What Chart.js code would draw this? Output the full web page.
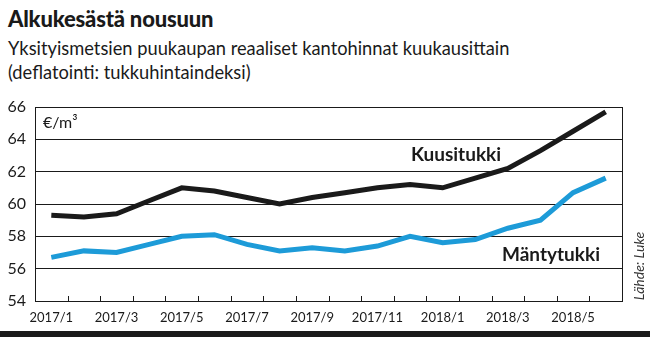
<!DOCTYPE html>
<html lang="fi">
<head>
<meta charset="utf-8">
<title>Alkukesästä nousuun</title>
<script src="https://cdn.jsdelivr.net/npm/chart.js@4"></script>
<style>
  html, body { margin: 0; padding: 0; background: #fff; }
  body { width: 650px; height: 337px; position: relative; overflow: hidden; font-family: Lato, "Open Sans", sans-serif; color: #1a1a1a; }
  #otsikko { position: absolute; left: 8px; top: 5px; font-size: 22px; font-weight: 900; letter-spacing: -0.2px; }
  #alaotsikko { position: absolute; left: 8px; top: 36px; font-size: 18.3px; line-height: 24px; }
  #lahde { position: absolute; left: 638px; top: 266px; transform: translate(-50%, -50%) rotate(-90deg); font-size: 14px; font-style: italic; color: #333; white-space: nowrap; }
  .sarja { position: absolute; font-size: 19px; font-weight: bold; transform: translate(-50%, -50%); white-space: nowrap; }
  #yksikko { position: absolute; left: 43px; top: 112px; font-size: 16px; }
  #palkki { position: absolute; left: 0; top: 331px; width: 650px; height: 6px; background: #1a1a1a; }
  canvas { position: absolute; left: 0; top: 0; }
</style>
</head>
<body>
<div id="otsikko">Alkukesästä nousuun</div>
<div id="alaotsikko">Yksityismetsien puukaupan reaaliset kantohinnat kuukausittain<br>(deflatointi: tukkuhintaindeksi)</div>
<canvas id="kaavio" width="650" height="337"></canvas>
<div id="yksikko">€/m³</div>
<div class="sarja" style="left:456px; top:153px;">Kuusitukki</div>
<div class="sarja" style="left:551px; top:253px;">Mäntytukki</div>
<div id="lahde">Lähde: Luke</div>
<div id="palkki"></div>

<script>
// ====== DATOS ======
const kuukaudet = ["2017/1", "2017/2", "2017/3", "2017/4", "2017/5", "2017/6", "2017/7", "2017/8", "2017/9",
                   "2017/10", "2017/11", "2017/12", "2018/1", "2018/2", "2018/3", "2018/4", "2018/5", "2018/6"];
const kuusitukki = [59.3, 59.2, 59.4, 60.2, 61.0, 60.8, 60.4, 60.0, 60.4, 60.7, 61.0, 61.2, 61.0, 61.6, 62.2, 63.3, 64.5, 65.7];
const mantytukki = [56.7, 57.1, 57.0, 57.5, 58.0, 58.1, 57.5, 57.1, 57.3, 57.1, 57.4, 58.0, 57.6, 57.8, 58.5, 59.0, 60.7, 61.6];
const yTicks = [54, 56, 58, 60, 62, 64, 66];

// ticks hacia adentro + borde derecho
const reunaPlugin = {
    id: 'reuna',
    afterDraw(chart) {
        const { ctx, chartArea, scales } = chart;
        const x = scales.x;
        ctx.save();
        ctx.strokeStyle = '#1a1a1a';
        ctx.lineWidth = 1;
        ctx.beginPath();
        for (let i = 1; i < kuukaudet.length; i++) {
            const px = Math.round((x.getPixelForValue(i - 1) + x.getPixelForValue(i)) / 2) + 0.5;
            ctx.moveTo(px, chartArea.bottom);
            ctx.lineTo(px, chartArea.bottom - 5);
        }
        ctx.moveTo(Math.round(chartArea.right) + 0.5, chartArea.top);
        ctx.lineTo(Math.round(chartArea.right) + 0.5, chartArea.bottom);
        ctx.stroke();
        ctx.restore();
    }
};

new Chart(document.getElementById('kaavio').getContext('2d'), {
    type: 'line',
    data: {
        labels: kuukaudet,
        datasets: [
            { label: 'Kuusitukki', data: kuusitukki, borderColor: '#1a1a1a', borderWidth: 5, pointRadius: 0, tension: 0 },
            { label: 'Mäntytukki', data: mantytukki, borderColor: '#1d9bd8', borderWidth: 5, pointRadius: 0, tension: 0 }
        ]
    },
    options: {
        responsive: false,
        animation: false,
        layout: { padding: { left: 0, right: 28, top: 107, bottom: 6 } },
        plugins: { legend: { display: false }, tooltip: { enabled: false } },
        scales: {
            x: {
                offset: true,
                grid: { display: false },
                border: { display: true, color: '#1a1a1a', width: 1 },
                afterFit(scale) { scale.height = 30; },
                ticks: {
                    autoSkip: false, maxRotation: 0, padding: 1,
                    color: '#1a1a1a', font: { family: 'Lato', size: 13 },
                    callback: (v, i) => (i % 2 === 0 ? kuukaudet[i] : '')
                }
            },
            y: {
                min: 54, max: 66,
                afterFit(scale) { scale.width = 35; },
                afterBuildTicks(scale) { scale.ticks = yTicks.map(v => ({ value: v })); },
                grid: { color: '#1a1a1a', lineWidth: 1, drawTicks: false },
                border: { display: true, color: '#1a1a1a', width: 1 },
                ticks: { padding: 9, color: '#1a1a1a', font: { family: 'Lato', size: 16 } }
            }
        }
    },
    plugins: [reunaPlugin]
});
</script>
</body>
</html>
